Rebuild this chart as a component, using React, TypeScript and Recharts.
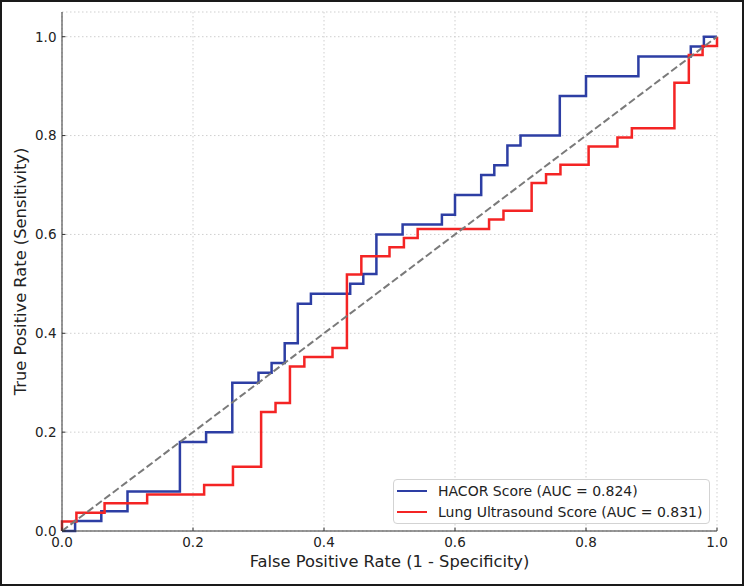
import { LineChart, Line, XAxis, YAxis, CartesianGrid, Legend } from 'recharts'

// ROC step corners (stepAfter): horizontal to next fpr, then up to next tpr
const HACOR_FPR = [0, 0.02, 0.06, 0.1, 0.18, 0.22, 0.26, 0.3, 0.32, 0.34, 0.36, 0.38, 0.44, 0.46, 0.48, 0.52, 0.58, 0.6, 0.64, 0.66, 0.68, 0.7, 0.76, 0.8, 0.88, 0.96, 0.98, 1.0]
const HACOR_TPR = [0, 0.02, 0.04, 0.08, 0.18, 0.2, 0.3, 0.32, 0.34, 0.38, 0.46, 0.48, 0.5, 0.52, 0.6, 0.62, 0.64, 0.68, 0.72, 0.74, 0.78, 0.8, 0.88, 0.92, 0.96, 0.98, 1.0, 1.0]

const LUS_FPR = [0, 0, 0.022, 0.065, 0.13, 0.217, 0.261, 0.304, 0.326, 0.348, 0.37, 0.413, 0.435, 0.457, 0.5, 0.522, 0.543, 0.652, 0.674, 0.717, 0.739, 0.761, 0.804, 0.848, 0.87, 0.935, 0.957, 0.978, 1.0]
const LUS_TPR = [0, 0.019, 0.037, 0.056, 0.074, 0.093, 0.13, 0.241, 0.259, 0.333, 0.352, 0.37, 0.519, 0.556, 0.574, 0.593, 0.611, 0.63, 0.648, 0.704, 0.722, 0.741, 0.778, 0.796, 0.815, 0.907, 0.963, 0.981, 1.0]

const CHANCE_FPR = [0, 1]
const CHANCE_TPR = [0, 1]

const TICKS = [0, 0.2, 0.4, 0.6, 0.8, 1.0]

const HACOR_NAME = 'HACOR Score (AUC = 0.824)'
const LUS_NAME = 'Lung Ultrasound Score (AUC = 0.831)'

const zip = (xs: number[], ys: number[]) => xs.map((fpr, i) => ({ fpr, tpr: ys[i] }))

const hacorData = zip(HACOR_FPR, HACOR_TPR)
const lusData = zip(LUS_FPR, LUS_TPR)
const chanceData = zip(CHANCE_FPR, CHANCE_TPR)

const BLUE = '#2d3ea4'
const RED = '#f42424'
const TEXT = '#222'

function RocLegend({ payload }: any) {
  const items = (payload || []).filter((p: any) => p.type !== 'none')
  return (
    <div
      style={{
        border: '1px solid #d3d3d3',
        borderRadius: 4,
        background: 'rgba(255,255,255,0.85)',
        padding: '0 4px 0 3px',
        boxSizing: 'border-box',
        width: 317,
        fontSize: 14,
        color: TEXT,
      }}
    >
      {items.map((p: any) => (
        <div key={p.value} style={{ display: 'flex', alignItems: 'center', height: 21.5 }}>
          <span style={{ width: 30, borderTop: `2.5px solid ${p.color}`, marginRight: 11 }} />
          <span>{p.value}</span>
        </div>
      ))}
    </div>
  )
}

export default function App() {
  return (
    <div
      style={{
        position: 'absolute',
        left: 0,
        top: 0,
        width: 744,
        height: 586,
        background: '#fff',
        fontFamily: '"DejaVu Sans", sans-serif',
      }}
    >
      <LineChart width={744} height={586} margin={{ top: 12, right: 27, bottom: 10, left: 12 }}>
        <CartesianGrid stroke="#cfcfcf" strokeDasharray="1.5 2.5" />
        <XAxis
          type="number"
          dataKey="fpr"
          domain={[0, 1]}
          ticks={TICKS}
          tickFormatter={(v: number) => v.toFixed(1)}
          height={45}
          stroke="#333"
          tickSize={-3.5}
          tickMargin={9.5}
          tick={{ fontSize: 13.5, fill: TEXT }}
          label={{ value: 'False Positive Rate (1 - Specificity)', position: 'insideBottom', offset: 9, fontSize: 16.3, fill: TEXT }}
        />
        <YAxis
          type="number"
          dataKey="tpr"
          domain={[0, 1.05]}
          ticks={TICKS}
          tickFormatter={(v: number) => v.toFixed(1)}
          width={50}
          stroke="#333"
          tickSize={-3.5}
          tickMargin={9}
          tick={{ fontSize: 13.5, fill: TEXT }}
          label={{
            value: 'True Positive Rate (Sensitivity)',
            angle: -90,
            position: 'insideLeft',
            offset: 8,
            fontSize: 16.3,
            fill: TEXT,
            style: { textAnchor: 'middle' },
          }}
        />
        <Legend
          layout="vertical"
          align="center"
          verticalAlign="middle"
          content={<RocLegend />}
          wrapperStyle={{ left: 393, top: 479, width: 317 }}
        />
        <Line
          data={hacorData}
          dataKey="tpr"
          name={HACOR_NAME}
          type="stepAfter"
          stroke={BLUE}
          strokeWidth={2.5}
          dot={false}
          activeDot={false}
          isAnimationActive={false}
        />
        <Line
          data={lusData}
          dataKey="tpr"
          name={LUS_NAME}
          type="stepAfter"
          stroke={RED}
          strokeWidth={2.5}
          dot={false}
          activeDot={false}
          isAnimationActive={false}
        />
        <Line
          data={chanceData}
          dataKey="tpr"
          name="chance"
          type="linear"
          stroke="#7a7a7a"
          strokeWidth={2}
          strokeDasharray="7.4 3.2"
          dot={false}
          activeDot={false}
          legendType="none"
          isAnimationActive={false}
        />
      </LineChart>
      <div
        style={{
          position: 'absolute',
          inset: 0,
          border: '2px solid #1a1a1a',
          pointerEvents: 'none',
        }}
      />
    </div>
  )
}
